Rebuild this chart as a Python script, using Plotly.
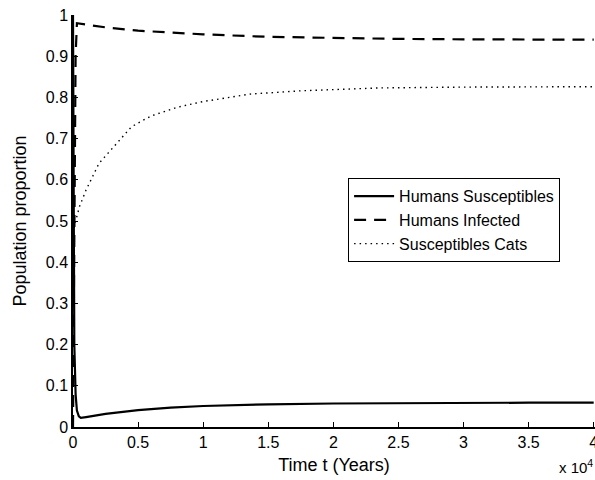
import plotly.graph_objects as go

# Time in units of 10^4 years
t_sus = [0, 0.005, 0.01, 0.02, 0.03, 0.045, 0.06, 0.1, 0.25, 0.5, 0.75, 1.0, 1.5, 2.0, 2.5, 3.0, 3.5, 4.0]
humans_susceptibles = [1.0, 0.45, 0.2, 0.08, 0.04, 0.026, 0.022, 0.024, 0.032, 0.041, 0.047, 0.051, 0.055, 0.057, 0.058, 0.059, 0.059, 0.059]

t_inf = [0, 0.01, 0.02, 0.03, 0.1, 0.25, 0.5, 0.75, 1.0, 1.5, 2.0, 2.5, 3.0, 3.5, 4.0]
humans_infected = [0.0, 0.55, 0.9, 0.98, 0.977, 0.970, 0.962, 0.957, 0.953, 0.947, 0.944, 0.942, 0.941, 0.940, 0.940]

t_cat = [0, 0.02, 0.05, 0.1, 0.2, 0.35, 0.45, 0.6, 0.8, 1.0, 1.36, 1.75, 2.36, 3.0, 3.5, 4.0]
susceptibles_cats = [0.47, 0.50, 0.535, 0.575, 0.64, 0.692, 0.729, 0.755, 0.776, 0.79, 0.808, 0.816, 0.823, 0.825, 0.826, 0.826]

x_ticks = [0, 0.5, 1, 1.5, 2, 2.5, 3, 3.5, 4]
x_labels = ["0", "0.5", "1", "1.5", "2", "2.5", "3", "3.5", "4"]
y_ticks = [0, 0.1, 0.2, 0.3, 0.4, 0.5, 0.6, 0.7, 0.8, 0.9, 1]
y_labels = ["0", "0.1", "0.2", "0.3", "0.4", "0.5", "0.6", "0.7", "0.8", "0.9", "1"]

FONT = "Liberation Sans, Arial, Helvetica, sans-serif"

fig = go.Figure()
fig.add_trace(go.Scatter(x=t_sus, y=humans_susceptibles, mode="lines",
                         name="Humans Susceptibles",
                         line=dict(color="black", width=2.2, dash="solid")))
fig.add_trace(go.Scatter(x=t_inf, y=humans_infected, mode="lines",
                         name="Humans Infected",
                         line=dict(color="black", width=2.2, dash="12px,8px")))
fig.add_trace(go.Scatter(x=t_cat, y=susceptibles_cats, mode="lines",
                         name="Susceptibles Cats",
                         line=dict(color="black", width=1.4, dash="1.5px,4px")))

fig.update_layout(
    width=595, height=480,
    margin=dict(l=73, r=0, t=15, b=53, autoexpand=False),
    paper_bgcolor="white", plot_bgcolor="white",
    font=dict(family=FONT, size=16, color="black"),
    legend=dict(x=0.527, y=0.604, xanchor="left", yanchor="top",
                bordercolor="black", borderwidth=1, bgcolor="white",
                font=dict(size=16), tracegroupgap=0, itemwidth=40),
    showlegend=True,
)
fig.update_xaxes(range=[0, 4.01], tickvals=x_ticks, ticktext=x_labels,
                 showline=True, linecolor="black", linewidth=1.5,
                 ticks="inside", ticklen=5, tickcolor="black", tickwidth=1.2,
                 showgrid=False, zeroline=False, automargin=False,
                 ticklabeloverflow="allow",
                 title=dict(text="Time t (Years)", font=dict(size=18), standoff=8),
                 tickfont=dict(size=16))
fig.update_yaxes(range=[0, 1], tickvals=y_ticks, ticktext=y_labels,
                 showline=True, linecolor="black", linewidth=1.5,
                 ticks="inside", ticklen=5, tickcolor="black", tickwidth=1.2,
                 showgrid=False, zeroline=False, automargin=False,
                 title=dict(text="Population proportion", font=dict(size=18), standoff=14),
                 tickfont=dict(size=16))

fig.add_annotation(x=1, y=0, xref="paper", yref="paper", xanchor="right", yanchor="top",
                   yshift=-28, xshift=0, showarrow=False,
                   text="x 10<sup>4</sup>", font=dict(size=15))

fig.write_html("out.html", config={"displayModeBar": False},
               post_script="document.body.style.margin='0';")
